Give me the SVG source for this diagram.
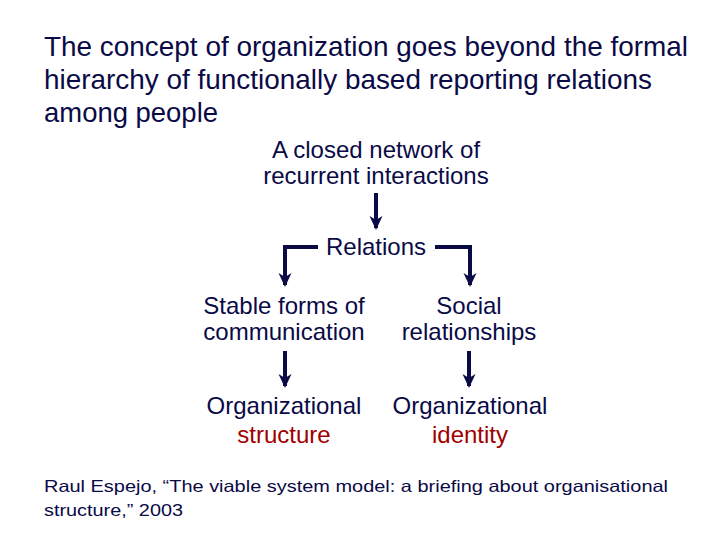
<svg xmlns="http://www.w3.org/2000/svg" width="720" height="540" viewBox="0 0 720 540">
<style>
text{font-family:"Liberation Sans",Arial,sans-serif;fill:#0a0a46}
.t{font-size:27.5px}
.n{font-size:24px;text-anchor:middle}
.r{fill:#a00000}
.f{font-size:16.5px}
.c{fill:none;stroke:#0a0a46;stroke-width:4}
</style>
<defs>
<marker id="ah" markerWidth="14" markerHeight="14" refX="12" refY="7" orient="auto" markerUnits="userSpaceOnUse" viewBox="0 0 14 14">
<path d="M0,0.5 L14,7 L0,13.5 L4,7 Z" fill="#0a0a46"/>
</marker>
</defs>
<rect width="720" height="540" fill="#fff"/>
<g id="title">
<text class="t" x="44" y="56" textLength="644" lengthAdjust="spacingAndGlyphs">The concept of organization goes beyond the formal</text>
<text class="t" x="44" y="89" textLength="608" lengthAdjust="spacingAndGlyphs">hierarchy of functionally based reporting relations</text>
<text class="t" x="44" y="122" textLength="174" lengthAdjust="spacingAndGlyphs">among people</text>
</g>
<g id="network">
<text class="n" x="376" y="158">A closed network of</text>
<text class="n" x="376" y="184">recurrent interactions</text>
</g>
<g id="relations">
<text class="n" x="376" y="255">Relations</text>
</g>
<g id="stable">
<text class="n" x="284" y="314">Stable forms of</text>
<text class="n" x="284" y="340">communication</text>
</g>
<g id="social">
<text class="n" x="469" y="314">Social</text>
<text class="n" x="469" y="340">relationships</text>
</g>
<g id="structure">
<text class="n" x="284" y="414">Organizational</text>
<text class="n r" x="284" y="443">structure</text>
</g>
<g id="identity">
<text class="n" x="470" y="414">Organizational</text>
<text class="n r" x="470" y="443">identity</text>
</g>
<g id="connectors">
<path class="c" d="M376,193 V228" marker-end="url(#ah)"/>
<path class="c" d="M318,247 H285 V285" marker-end="url(#ah)"/>
<path class="c" d="M435,247 H470 V285" marker-end="url(#ah)"/>
<path class="c" d="M285,351 V386" marker-end="url(#ah)"/>
<path class="c" d="M469,351 V386" marker-end="url(#ah)"/>
</g>
<g id="footer">
<text class="f" x="44" y="492" textLength="624" lengthAdjust="spacingAndGlyphs">Raul Espejo, “The viable system model: a briefing about organisational</text>
<text class="f" x="44" y="516" textLength="139" lengthAdjust="spacingAndGlyphs">structure,” 2003</text>
</g>
</svg>
